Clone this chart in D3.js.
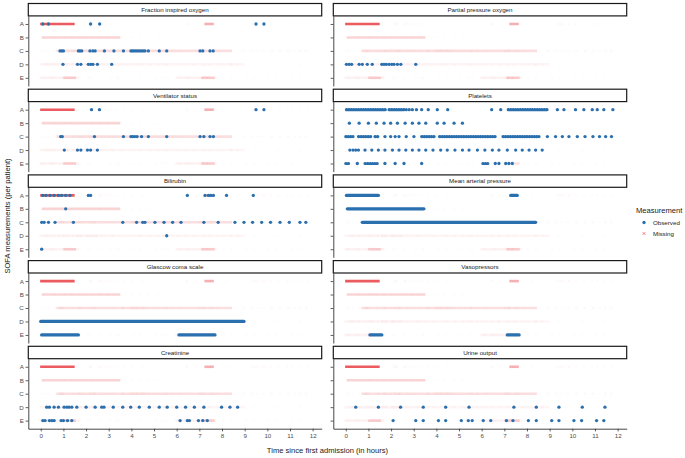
<!DOCTYPE html>
<html>
<head>
<meta charset="utf-8">
<script src="https://cdn.jsdelivr.net/npm/d3@7"></script>
<style>
  body { margin: 0; background: #fff; }
  svg { display: block; font-family: "Liberation Sans", Arial, sans-serif; }
</style>
</head>
<body>
<svg id="chart" width="685" height="458"></svg>
<script>
// SOFA measurements per patient, faceted by variable (observed dots / missing crosses)

const patients = ["A", "B", "C", "D", "E"];
const xTicks = [0, 1, 2, 3, 4, 5, 6, 7, 8, 9, 10, 11, 12];

const panelNames = [
    "Fraction inspired oxygen", "Partial pressure oxygen",
    "Ventilator status", "Platelets",
    "Bilirubin", "Mean arterial pressure",
    "Glascow coma scale", "Vasopressors",
    "Creatinine", "Urine output"
];

// single observed measurements (hours since admission)
const fio2Points = {
    A: [0.09, 0.34, 2.2, 2.6, 9.5, 9.85],
    C: [0.85, 0.93, 1.0, 1.66, 1.73, 1.81, 2.17, 2.3, 2.4, 2.81, 3.23, 3.65, 3.98, 4.05, 4.12, 4.2,
        4.28, 4.36, 4.44, 4.52, 4.6, 4.75, 5.23, 5.56, 7.03, 7.15, 7.47, 7.61],
    D: [0.98, 1.62, 1.77, 2.1, 2.2, 2.3, 2.5, 3.13]
};
const pao2Points = {
    D: [0.03, 0.15, 0.26, 0.59, 0.73, 0.95, 1.17, 1.59, 1.69, 1.79, 1.91, 2.03, 2.13, 2.28, 2.43, 3.09]
};
const ventPoints = {
    A: [2.24, 2.59, 9.5, 9.85],
    C: [0.88, 0.95, 2.37, 3.65, 3.98, 4.06, 4.15, 4.25, 4.45, 4.75, 5.56, 7.03, 7.2, 7.47, 7.62],
    D: [1.04, 1.62, 1.77, 2.06, 2.2, 2.5]
};
const plateletsPoints = {
    A: [2.67, 2.8, 2.94, 3.12, 3.35, 3.64, 4.04, 4.5, 6.44, 6.84, 9.34, 9.63, 10.14, 10.51, 10.88,
        11.1, 11.39, 11.79],
    B: [0.16, 0.59, 1.0, 1.35, 1.69, 1.98, 2.28, 2.62, 2.94, 3.23, 3.53, 4.04, 4.34, 4.78, 5.15],
    C: [1.73, 1.98, 2.18, 2.35, 2.67, 3.01, 8.9, 9.26, 9.56, 9.85, 10.22, 10.56, 10.91, 11.2, 11.47, 11.73],
    D: [0.18, 0.32, 0.44, 0.56, 0.85, 1.15, 1.44, 1.73, 2.06, 2.35, 2.65, 2.94, 3.23, 3.53, 3.85, 4.19,
        4.48, 4.82, 5.15, 5.44, 5.81, 6.14, 6.47, 6.76, 7.13, 7.5, 7.79, 8.09, 8.38, 8.67],
    E: [0.51, 1.73, 2.18, 2.57, 3.35, 6.6, 6.76, 7.06, 7.2, 7.35]
};
const bilirubinPoints = {
    A: [0.09, 0.23, 0.41, 0.59, 0.78, 0.92, 1.1, 1.29, 2.1, 2.2, 6.47, 7.25, 7.4, 7.5, 7.62, 8.2, 9.38],
    B: [1.1],
    C: [0.04, 0.15, 0.34, 0.63, 1.44, 3.62, 4.23, 4.5, 4.6, 5.04, 5.44, 5.82, 6.19, 7.2, 7.83, 8.57,
        8.97, 9.35, 9.75, 10.14, 10.56, 10.97, 11.44, 11.7],
    D: [5.56],
    E: [0.04]
};
const creatininePoints = {
    D: [0.26, 0.38, 0.59, 0.78, 1.03, 1.15, 1.25, 1.37, 1.59, 2.0, 2.4, 2.69, 2.79, 3.2, 3.62, 3.97,
        4.35, 4.79, 5.23, 5.58, 6.0, 6.39, 6.78, 7.2, 7.98, 8.35, 8.69],
    E: [0.09, 0.19, 0.38, 0.49, 0.59, 0.9, 1.0, 1.18, 1.37, 6.15, 6.47, 6.56, 6.96, 7.15, 7.35]
};
const urinePoints = {
    D: [0.44, 1.44, 2.42, 3.42, 4.41, 5.44, 7.42, 8.41, 9.41, 10.44, 11.44],
    E: [2.09, 3.09, 3.42, 4.09, 4.41, 5.1, 5.41, 5.58, 6.07, 6.4, 7.09, 7.38, 8.06, 8.41, 9.09, 9.41,
        10.07, 10.41, 11.07, 11.39]
};

// stretches of near-continuous observed measurements [start, end]
const plateletsRuns = {
    A: [[0.03, 1.79], [1.91, 2.57], [7.17, 8.97]],
    C: [[0.0, 0.32], [0.56, 1.1], [1.29, 1.47], [3.35, 3.97], [4.14, 6.61], [6.94, 8.53]],
    E: [[0.0, 0.19], [0.85, 1.39], [6.05, 6.27]]
};
const mapRuns = {
    A: [[0.03, 1.44], [7.28, 7.57]],
    B: [[0.07, 3.45]],
    C: [[0.73, 8.38]]
};
const gcsRuns = {
    D: [[0.0, 8.97]],
    E: [[0.04, 1.66], [6.1, 7.69]]
};
const vasoRuns = {
    E: [[1.07, 1.59], [7.13, 7.65]]
};

// each patient's dense measurement stretches: [patient, start, end, measurements per hour]
const timelineMissing = [
    ["A", 0.03, 1.44, 100], ["A", 7.28, 7.58, 25],
    ["B", 0.1, 3.45, 12],
    ["C", 0.75, 8.38, 9],
    ["D", 0.0, 8.95, 2.5],
    ["E", 0.0, 1.62, 3], ["E", 1.05, 1.5, 12],
    ["E", 6.0, 7.7, 3], ["E", 7.15, 7.62, 12]
];
const plateletsMissing = [
    ["E", 7.35, 7.62, 8]
];

const panels = [
    { name: panelNames[0], points: fio2Points, runs: {}, missing: timelineMissing },
    { name: panelNames[1], points: pao2Points, runs: {}, missing: timelineMissing },
    { name: panelNames[2], points: ventPoints, runs: {}, missing: timelineMissing },
    { name: panelNames[3], points: plateletsPoints, runs: plateletsRuns, missing: plateletsMissing, dotted: true },
    { name: panelNames[4], points: bilirubinPoints, runs: {}, missing: timelineMissing },
    { name: panelNames[5], points: {}, runs: mapRuns, missing: timelineMissing },
    { name: panelNames[6], points: {}, runs: gcsRuns, missing: timelineMissing },
    { name: panelNames[7], points: {}, runs: vasoRuns, missing: timelineMissing },
    { name: panelNames[8], points: creatininePoints, runs: {}, missing: timelineMissing },
    { name: panelNames[9], points: urinePoints, runs: {}, missing: timelineMissing }
];

const BLUE = '#2a6fae';
const RED = '#e8454a';
const MARK_ALPHA = 0.15;
const MARK_PX = 3;

const svg = d3.select('#chart');

const colRange = [[28.3, 321.7], [333.3, 626.7]];
const stripTop0 = 3.5, stripH = 12.4, panelH = 70, pitch = 85.7;

// all single measurement times per patient (the rows that exist for every variable)
const allTimes = {};
patients.forEach(p => {
    const t = [];
    panels.forEach(pn => (pn.points[p] || []).forEach(v => t.push(v)));
    allTimes[p] = t.sort((a, b) => a - b);
});

function subtract(s, e, cuts) {
    let segs = [[s, e]];
    (cuts || []).forEach(([cs, ce]) => {
        const next = [];
        segs.forEach(([a, b]) => {
            if (ce <= a || cs >= b) { next.push([a, b]); return; }
            if (cs > a) next.push([a, cs]);
            if (ce < b) next.push([ce, b]);
        });
        segs = next;
    });
    return segs.filter(([a, b]) => b - a > 0.01);
}

const crossPath = 'M-1.4,-1.4L1.4,1.4M-1.4,1.4L1.4,-1.4';

panels.forEach((panel, i) => {
    const col = i % 2, row = Math.floor(i / 2);
    const [x0, x1] = colRange[col];
    const x = d3.scaleLinear().domain([-0.55, 12.4]).range([x0, x1]);
    const top = stripTop0 + row * pitch;
    const pTop = top + stripH, pBot = pTop + panelH;
    const y = d3.scalePoint().domain(patients).range([pTop, pBot]).padding(0.6);
    const pxPerHour = x(1) - x(0);

    const g = svg.append('g').attr('class', 'panel');

    // missing: dense stretches
    panel.missing.forEach(([p, s, e, rate]) => {
        const op = 1 - Math.pow(1 - MARK_ALPHA, rate * MARK_PX / pxPerHour);
        subtract(s, e, panel.runs[p]).forEach(([a, b]) => {
            g.append('line')
                .attr('x1', x(a)).attr('x2', x(b))
                .attr('y1', y(p)).attr('y2', y(p))
                .attr('stroke', RED)
                .attr('stroke-width', 2.6)
                .attr('stroke-linecap', 'square')
                .attr('stroke-opacity', op);
        });
    });

    // missing: single measurement times of other variables
    patients.forEach(p => {
        const own = panel.points[p] || [];
        const runs = panel.runs[p] || [];
        allTimes[p].forEach(t => {
            if (own.some(v => Math.abs(v - t) < 0.03)) return;
            if (runs.some(([a, b]) => t >= a && t <= b)) return;
            g.append('path')
                .attr('d', crossPath)
                .attr('transform', `translate(${x(t)},${y(p)})`)
                .attr('stroke', RED)
                .attr('stroke-width', 0.6)
                .attr('stroke-opacity', 0.045)
                .attr('fill', 'none');
        });
    });

    // observed stretches
    Object.entries(panel.runs).forEach(([p, list]) => {
        list.forEach(([a, b]) => {
            const ln = g.append('line')
                .attr('x1', x(a)).attr('x2', x(b))
                .attr('y1', y(p)).attr('y2', y(p))
                .attr('stroke', BLUE)
                .attr('stroke-width', 3.3)
                .attr('stroke-linecap', 'round');
            if (panel.dotted) ln.attr('stroke-width', 3.2).attr('stroke-dasharray', '0.4 2.0');
        });
    });

    // observed single points
    Object.entries(panel.points).forEach(([p, list]) => {
        g.selectAll(null)
            .data(list)
            .enter()
            .append('circle')
            .attr('cx', d => x(d))
            .attr('cy', y(p))
            .attr('r', 1.65)
            .attr('fill', BLUE);
    });

    // y axis
    const yAxis = g.append('g')
        .attr('transform', `translate(${x0},0)`)
        .call(d3.axisLeft(y).tickSize(2.7).tickSizeOuter(0).tickPadding(1.8)
            .tickFormat(col === 0 ? (d => d) : (() => '')));
    yAxis.select('.domain').attr('stroke', '#333').attr('stroke-width', 0.9);
    yAxis.selectAll('.tick line').attr('stroke', '#333').attr('stroke-width', 0.8);
    yAxis.selectAll('.tick text').attr('fill', '#4d4d4d').style('font-size', '6.2px')
        .style('font-family', '"Liberation Sans", Arial, sans-serif');

    // x axis on the bottom row only
    if (row === 4) {
        const xAxis = g.append('g')
            .attr('transform', `translate(0,${pBot})`)
            .call(d3.axisBottom(x).tickValues(xTicks).tickSize(2.7).tickSizeOuter(0).tickPadding(2));
        xAxis.select('.domain').attr('stroke', '#333').attr('stroke-width', 0.9);
        xAxis.selectAll('.tick line').attr('stroke', '#333').attr('stroke-width', 0.8);
        xAxis.selectAll('.tick text').attr('fill', '#4d4d4d').style('font-size', '6.2px')
            .style('font-family', '"Liberation Sans", Arial, sans-serif');
    }

    // strip
    g.append('rect')
        .attr('x', x0).attr('y', top)
        .attr('width', x1 - x0).attr('height', stripH)
        .attr('fill', '#fff')
        .attr('stroke', '#1a1a1a')
        .attr('stroke-width', 1.2);
    g.append('text')
        .attr('x', (x0 + x1) / 2)
        .attr('y', top + stripH / 2)
        .attr('dy', '0.35em')
        .attr('text-anchor', 'middle')
        .attr('fill', '#1a1a1a')
        .style('font-size', '6.2px')
        .text(panel.name);
});

// axis titles
svg.append('text')
    .attr('x', (colRange[0][0] + colRange[1][1]) / 2)
    .attr('y', 452.5)
    .attr('text-anchor', 'middle')
    .attr('fill', '#1a1a1a')
    .style('font-size', '7.6px')
    .text('Time since first admission (in hours)');

svg.append('text')
    .attr('transform', 'translate(9.5,216) rotate(-90)')
    .attr('text-anchor', 'middle')
    .attr('fill', '#1a1a1a')
    .style('font-size', '7.6px')
    .text('SOFA measurements (per patient)');

// legend
const legend = svg.append('g').attr('transform', 'translate(636,0)');
legend.append('text')
    .attr('x', 0).attr('y', 213)
    .attr('fill', '#1a1a1a')
    .style('font-size', '7.6px')
    .text('Measurement');
legend.append('circle')
    .attr('cx', 8).attr('cy', 222.5).attr('r', 1.65).attr('fill', BLUE);
legend.append('text')
    .attr('x', 17).attr('y', 224.7)
    .attr('fill', '#1a1a1a')
    .style('font-size', '6.2px')
    .text('Observed');
legend.append('path')
    .attr('d', crossPath)
    .attr('transform', 'translate(8,233.5)')
    .attr('stroke', RED).attr('stroke-opacity', 0.8).attr('stroke-width', 0.8).attr('fill', 'none');
legend.append('text')
    .attr('x', 17).attr('y', 235.7)
    .attr('fill', '#1a1a1a')
    .style('font-size', '6.2px')
    .text('Missing');
</script>
</body>
</html>
